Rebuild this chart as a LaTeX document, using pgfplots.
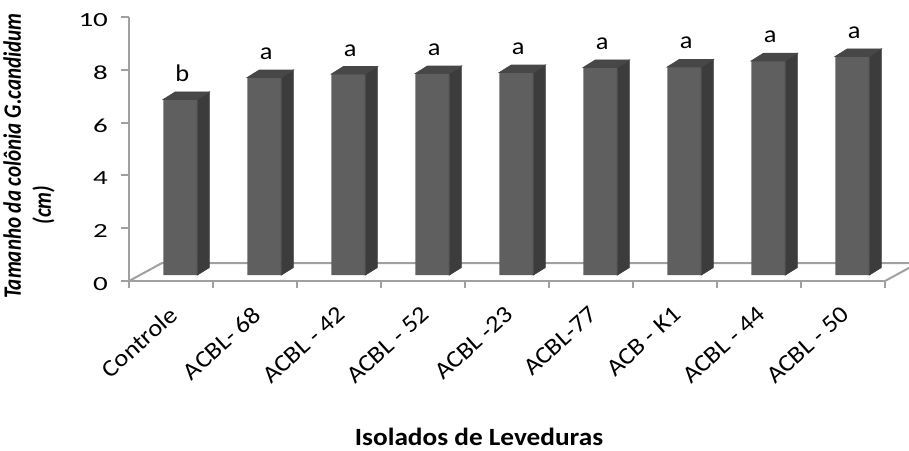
\documentclass[border=0pt]{standalone}
\usepackage{fontspec}
\setmainfont{Carlito}[FakeStretch=1.1]
\newfontfamily\tickfont{Carlito}[FakeStretch=1.45]
\newfontfamily\ylabfont{Carlito Bold Italic}[FakeStretch=0.84]
\usepackage{pgfplots}
\usepackage{pgfplotstable}
\pgfplotsset{compat=1.18}

\definecolor{barfront}{HTML}{5F5F5F}
\definecolor{barside}{HTML}{3C3C3C}
\definecolor{bartop}{HTML}{474747}
\definecolor{axisgray}{HTML}{A0A0A0}

% colony diameter (cm) and significance group for each isolate
\pgfplotstableread{
x v grp
0 6.65 b
1 7.48 a
2 7.61 a
3 7.63 a
4 7.67 a
5 7.86 a
6 7.88 a
7 8.11 a
8 8.28 a
}\colonia

% empty mark: the scatter code below draws the faces itself
\pgfdeclareplotmark{blank}{}

\begin{document}
\begin{tikzpicture}
\useasboundingbox (-64.5pt,-84.5pt) rectangle (390pt,140.5pt);
\begin{axis}[
  at={(0,0)}, anchor=south west,
  scale only axis, width=378pt, height=132pt,
  xmin=-0.5, xmax=8.5, ymin=0, ymax=10,
  clip=false,
  separate axis lines,
  axis x line*=bottom, axis y line*=left,
  axis line style={-, draw=axisgray, line width=1pt},
  ytick={0,2,...,10},
  ytick align=outside,
  major tick length=4pt,
  y tick style={draw=axisgray, line width=1pt},
  yticklabel style={anchor=east, xshift=-3pt, yshift=-1.5pt, font=\fontsize{10}{12}\tickfont, /pgf/number format/assume math mode=true},
  xtick={0,...,8},
  xticklabels={Controle, ACBL- 68, ACBL - 42, ACBL - 52, ACBL -23, ACBL-77, ACB - K1, ACBL - 44, ACBL - 50},
  major x tick style={draw=none},
  minor xtick={-0.5,0.5,...,8.5},
  minor x tick style={draw=axisgray, line width=1pt},
  xtick align=outside,
  minor tick length=3.5pt,
  xticklabel style={rotate=42, anchor=east, font=\fontsize{12}{14}\selectfont, xshift=-3pt, yshift=-9pt},
  xlabel={Isolados de Leveduras},
  xlabel style={at={(axis description cs:0.463,0)}, anchor=base, yshift=-82pt, font=\fontsize{12.4}{14}\selectfont\bfseries},
  ylabel={Tamanho da colônia G.candidum\\(cm)\hspace*{49pt}},
  ylabel style={at={([xshift=-50pt]axis description cs:0,0.473)}, anchor=center, align=center,
    font=\fontsize{12.5}{15}\ylabfont},
]
% floor of the plot area (drawn first so the bars cover it)
\draw[axisgray, line width=1pt] (axis cs:-0.5,0) -- ++(16.5pt,9pt) -- ([shift={(16.5pt,9pt)}]axis cs:8.5,0) -- (axis cs:8.5,0);

% front faces of the bars
\addplot[ybar, bar width=17pt, fill=barfront, draw=none, xshift=4.65pt, yshift=3pt]
  table[x=x, y=v] {\colonia};

% side and top faces, plus the group letter above each bar
\addplot[only marks, mark=blank, scatter, xshift=4.65pt, yshift=3pt,
  point meta=explicit symbolic,
  visualization depends on={\thisrow{v} \as \val},
  scatter/@pre marker code/.code={
    \fill[barside] (8.5pt,0pt) -- ++(6pt,3.75pt) -- ++(axis direction cs:0,-\val) -- ++(-6pt,-3.75pt) -- cycle;
    \fill[bartop] (-8.5pt,0pt) -- (8.5pt,0pt) -- ++(6pt,3.75pt) -- ++(-17pt,0pt) -- cycle;
    \node[anchor=base, font=\fontsize{12}{14}\selectfont, inner sep=0pt] at (1pt,9pt) {\pgfplotspointmeta};
  },
  scatter/@post marker code/.code={},
] table[x=x, y=v, meta=grp] {\colonia};
\end{axis}
\end{tikzpicture}
\end{document}
